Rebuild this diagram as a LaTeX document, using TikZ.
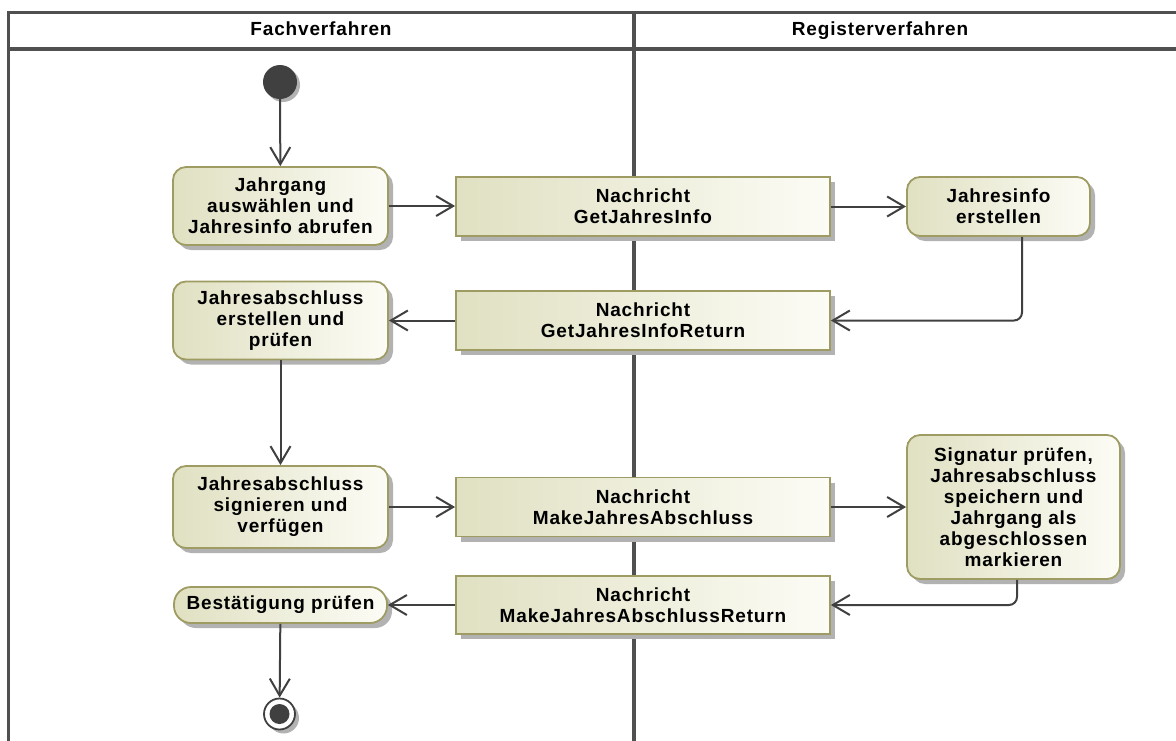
\documentclass[tikz,border=0pt]{standalone}
\usepackage{fontspec}
\usetikzlibrary{arrows.meta,shadows}
\newfontfamily\lab{Liberation Sans}[LetterSpace=4.5]
\definecolor{olivebd}{RGB}{158,156,98}
\definecolor{fillL}{RGB}{224,224,194}
\definecolor{fillR}{RGB}{252,252,246}
\definecolor{conn}{RGB}{64,64,64}
\definecolor{frame}{RGB}{80,80,80}
\definecolor{shad}{RGB}{178,178,178}
\tikzset{
  x=1pt, y=-1pt,
  txt/.style={font=\lab\bfseries\fontsize{19}{21}\selectfont, align=center, text=black},
  boxbase/.style={txt, draw=olivebd, line width=1.8pt, left color=fillL, right color=fillR,
    inner sep=2pt, drop shadow={shadow xshift=5pt, shadow yshift=-5pt, fill=shad, opacity=1}},
  act/.style={boxbase, rounded corners=13pt},
  msg/.style={boxbase},
  edge/.style={draw=conn, line width=2pt, -{Straight Barb[length=17pt,width=20pt,line width=2pt]}},
  lane/.style={draw=frame, line width=3.2pt},
  startnode/.style={circle, fill={rgb,255:red,64;green,64;blue,64}, minimum size=34pt, inner sep=0pt,
    drop shadow={shadow xshift=3pt, shadow yshift=-3pt, fill=shad, opacity=1}},
  endnode/.style={circle, draw=conn, line width=1.8pt, fill=white, minimum size=31pt, inner sep=0pt,
    drop shadow={shadow xshift=4pt, shadow yshift=-4pt, fill=shad, opacity=1}},
}
\begin{document}
\begin{tikzpicture}
\useasboundingbox (0,0) rectangle (1176,740);
% swimlanes
\draw[lane] (8.5,745) -- (8.5,12.5) -- (1180,12.5);
\draw[lane] (8.5,49) -- (1180,49);
\draw[lane] (634,12.5) -- (634,745);
\node[txt, anchor=base] (h1) at (321,35) {Fachverfahren};
\node[txt, anchor=base] (h2) at (880,35) {Registerverfahren};
% nodes
\node[startnode] (start) at (280,82) {};
\node[act, minimum width=215pt, minimum height=78pt] (n1) at (280.5,206)
  {Jahrgang\\auswählen und\\Jahresinfo abrufen};
\node[msg, minimum width=374pt, minimum height=59pt] (m1) at (643,206.5)
  {Nachricht\\GetJahresInfo};
\node[act, minimum width=183pt, minimum height=59pt] (j1) at (998.5,206.5)
  {Jahresinfo\\erstellen};
\node[act, minimum width=215pt, minimum height=78pt] (n2) at (280.5,320.5)
  {Jahresabschluss\\erstellen und\\prüfen};
\node[msg, minimum width=374pt, minimum height=59pt] (m2) at (643,320.5)
  {Nachricht\\GetJahresInfoReturn};
\node[act, minimum width=215pt, minimum height=82pt] (n3) at (280.5,507)
  {Jahresabschluss\\signieren und\\verfügen};
\node[msg, minimum width=374pt, minimum height=59pt] (m3) at (643,507)
  {Nachricht\\MakeJahresAbschluss};
\node[act, minimum width=213pt, minimum height=144pt] (n4) at (1013.5,507)
  {Signatur prüfen,\\Jahresabschluss\\speichern und\\Jahrgang als\\abgeschlossen\\markieren};
\node[msg, minimum width=374pt, minimum height=58pt] (m4) at (643,605)
  {Nachricht\\MakeJahresAbschlussReturn};
\node[act, rounded corners=17pt, minimum width=213pt, minimum height=36pt] (n5) at (280.5,605)
  {Bestätigung prüfen};
\node[endnode] (end) at (279.5,714) {};
\fill[conn] (end.center) circle (10pt);
% connectors
\draw[edge] (start) -- (n1);
\draw[edge] (n1.east) -- (n1.east -| m1.west);
\draw[edge] (m1) -- (j1);
\draw[edge, rounded corners=8pt] ([xshift=23.5pt]j1.south) |- (m2.east);
\draw[edge] (m2) -- (n2);
\draw[edge] (n2) -- (n3);
\draw[edge] (n3) -- (m3);
\draw[edge] (m3) -- (n4);
\draw[edge, rounded corners=8pt] ([xshift=3.5pt]n4.south) |- (m4.east);
\draw[edge] (m4) -- (n5);
\draw[edge] (n5) -- (end);
\end{tikzpicture}
\end{document}
